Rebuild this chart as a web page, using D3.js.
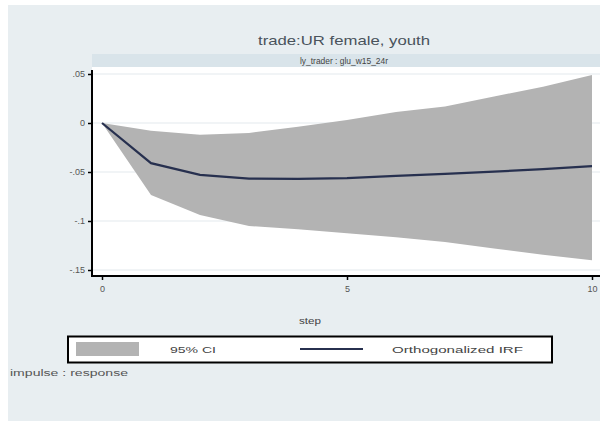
<!DOCTYPE html>
<html><head><meta charset="utf-8">
<script src="https://cdn.jsdelivr.net/npm/d3@7"></script>
<style>html,body{margin:0;padding:0;background:#fff;}svg{display:block;font-family:"Liberation Sans",Arial,sans-serif;}</style>
</head><body>
<script>
// ---- data ----
const steps = [0,1,2,3,4,5,6,7,8,9,10];
const irf   = [0,-0.041,-0.053,-0.0568,-0.057,-0.0562,-0.054,-0.052,-0.0497,-0.047,-0.044];
const ciLow = [0,-0.0735,-0.094,-0.105,-0.1085,-0.1126,-0.1165,-0.1214,-0.128,-0.1345,-0.140];
const ciHigh= [0,-0.008,-0.012,-0.0102,-0.0037,0.003,0.0112,0.0168,0.027,0.037,0.049];
const yTicks = [0.05,0,-0.05,-0.1,-0.15];
const yTickLabels = [".05","0","-.05","-.1","-.15"];
const xTicks = [0,5,10];
const titleText = "trade:UR female, youth";
const subTitleText = "ly_trader : glu_w15_24r";
const xTitle = "step";
const legendLabels = ["95% CI","Orthogonalized IRF"];
const noteText = "impulse : response";

const W=600,H=421;
const svg=d3.select("body").append("svg").attr("width",W).attr("height",H);
const bg="#e8eef1";
svg.append("rect").attr("width",W).attr("height",H).attr("fill",bg);

const x=d3.scaleLinear().domain([0,10]).range([102,592]);
const y=d3.scaleLinear().domain([-0.15,0.05]).range([270,74]);

// white margins (cropped image edges)
svg.append("rect").attr("x",0).attr("y",0).attr("width",8).attr("height",H).attr("fill","#fff");
svg.append("rect").attr("x",0).attr("y",0).attr("width",W).attr("height",5).attr("fill","#fff");

// subtitle band
svg.append("rect").attr("x",92).attr("y",54).attr("width",W-92).attr("height",13).attr("fill","#d9e4ea");
// plot region
svg.append("rect").attr("x",92).attr("y",67).attr("width",W-92).attr("height",209).attr("fill","#fff");
// gridlines
svg.selectAll("line.grid").data(yTicks).enter().append("line")
  .attr("x1",93).attr("x2",W).attr("y1",d=>y(d)).attr("y2",d=>y(d))
  .attr("stroke","#e3eaee").attr("stroke-width",1.2);

const pts=steps.map((s,i)=>({s,lo:ciLow[i],hi:ciHigh[i],v:irf[i]}));
svg.append("path").datum(pts)
  .attr("d",d3.area().x(d=>x(d.s)).y0(d=>y(d.lo)).y1(d=>y(d.hi)))
  .attr("fill","#b3b3b3");
svg.append("path").datum(pts)
  .attr("d",d3.line().x(d=>x(d.s)).y(d=>y(d.v)))
  .attr("fill","none").attr("stroke","#27304f").attr("stroke-width",2.2);

// axes
const yAxis=d3.axisLeft(y).tickValues(yTicks).tickFormat((d,i)=>yTickLabels[i]).tickSize(4).tickPadding(3);
const gy=svg.append("g").attr("transform","translate(92,0)").call(yAxis);
gy.select(".domain").attr("d","M0,70V277").attr("stroke","#000").attr("stroke-width",2);
gy.selectAll(".tick line").attr("stroke","#000").attr("stroke-width",1.5);
gy.selectAll(".tick text").attr("font-size",9).attr("fill","#555").attr("font-family","Liberation Sans,Arial,sans-serif");

const xAxis=d3.axisBottom(x).tickValues(xTicks).tickFormat(d3.format("d")).tickSize(4).tickPadding(6);
const gx=svg.append("g").attr("transform","translate(0,276)").call(xAxis);
gx.select(".domain").attr("d","M91,0H"+W).attr("stroke","#000").attr("stroke-width",2);
gx.selectAll(".tick line").attr("stroke","#000").attr("stroke-width",1.5);
gx.selectAll(".tick text").attr("font-size",9).attr("fill","#555").attr("font-family","Liberation Sans,Arial,sans-serif");

// titles
svg.append("text").attr("x",344).attr("y",45).attr("text-anchor","middle")
  .attr("font-size",13).attr("fill","#4a535c").attr("textLength",172).attr("lengthAdjust","spacingAndGlyphs").text(titleText);
svg.append("text").attr("x",344).attr("y",64).attr("text-anchor","middle")
  .attr("font-size",8.5).attr("fill","#444").attr("textLength",88).attr("lengthAdjust","spacingAndGlyphs").text(subTitleText);
svg.append("text").attr("x",310).attr("y",324).attr("text-anchor","middle")
  .attr("font-size",9).attr("fill","#444").attr("textLength",22).attr("lengthAdjust","spacingAndGlyphs").text(xTitle);

// legend
const lg=svg.append("g");
lg.append("rect").attr("x",68).attr("y",336.5).attr("width",484).attr("height",26).attr("fill","#fff").attr("stroke","#000").attr("stroke-width",2);
lg.append("rect").attr("x",76).attr("y",342).attr("width",63).attr("height",14).attr("fill","#b3b3b3");
lg.append("text").attr("x",170).attr("y",353).attr("font-size",9).attr("fill","#444").attr("textLength",46).attr("lengthAdjust","spacingAndGlyphs").text(legendLabels[0]);
lg.append("line").attr("x1",300).attr("x2",363).attr("y1",349).attr("y2",349).attr("stroke","#27304f").attr("stroke-width",2.2);
lg.append("text").attr("x",392).attr("y",353).attr("font-size",9).attr("fill","#444").attr("textLength",131).attr("lengthAdjust","spacingAndGlyphs").text(legendLabels[1]);

// note
svg.append("text").attr("x",10).attr("y",376).attr("font-size",8.5).attr("fill","#555").attr("textLength",118).attr("lengthAdjust","spacingAndGlyphs").text(noteText);
</script>
</body></html>
